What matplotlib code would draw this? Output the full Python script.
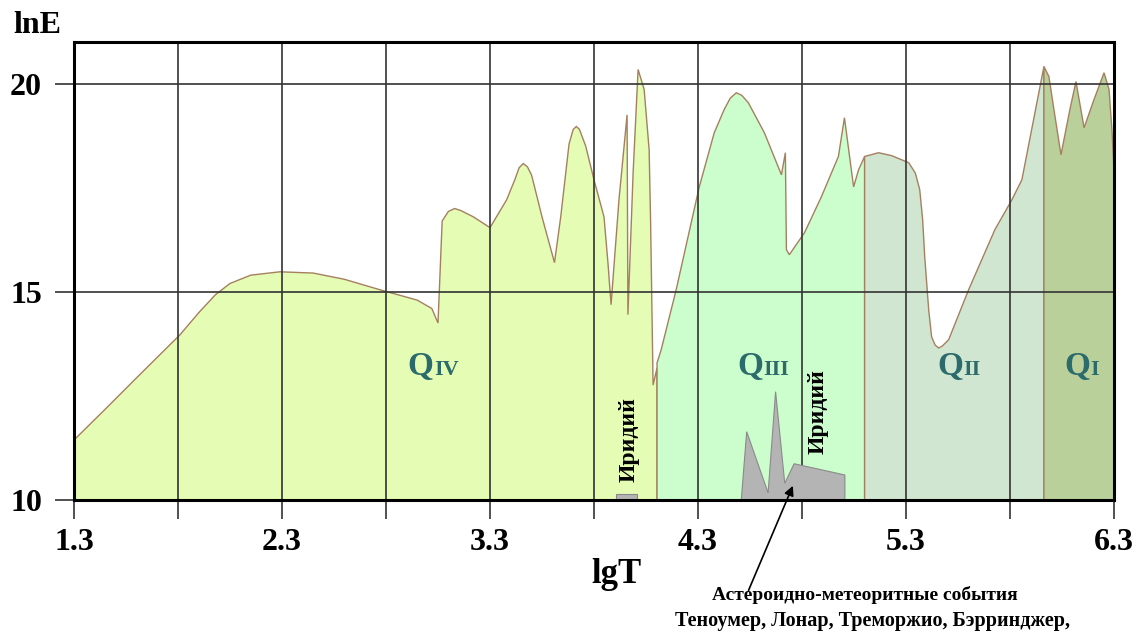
import matplotlib.pyplot as plt

plt.rcParams['font.family'] = ['Liberation Serif', 'DejaVu Serif']
plt.rcParams['font.weight'] = 'bold'

# Curve segments (lgT, lnE)
q4_x = [1.30, 1.45, 1.60, 1.81, 1.90, 1.98, 2.05, 2.15, 2.29, 2.45, 2.60, 2.77, 2.95, 3.02,
        3.05, 3.07, 3.10, 3.13, 3.16, 3.22, 3.30, 3.38, 3.42, 3.44, 3.46, 3.48, 3.50, 3.55,
        3.61, 3.64, 3.68, 3.70, 3.715, 3.73, 3.76, 3.80, 3.848, 3.867, 3.882, 3.920, 3.959,
        3.963, 3.988, 4.012, 4.041, 4.065, 4.072, 4.084, 4.103]
q4_y = [11.44, 12.18, 12.93, 13.97, 14.50, 14.93, 15.20, 15.40, 15.48, 15.45, 15.30, 15.05,
        14.80, 14.60, 14.25, 16.70, 16.93, 17.00, 16.95, 16.80, 16.54, 17.21, 17.70, 17.98,
        18.08, 18.00, 17.80, 16.80, 15.70, 16.80, 18.55, 18.90, 18.97, 18.90, 18.50, 17.69,
        16.80, 15.70, 14.69, 17.21, 19.25, 14.45, 17.86, 20.34, 19.86, 18.41, 16.70, 12.76,
        13.17]

q3_x = [4.103, 4.123, 4.195, 4.306, 4.378, 4.426, 4.455, 4.484, 4.510, 4.542, 4.619, 4.701,
        4.720, 4.725, 4.739, 4.812, 4.893, 4.975, 5.004, 5.048, 5.072, 5.101]
q3_y = [13.29, 13.61, 15.05, 17.52, 18.82, 19.38, 19.65, 19.78, 19.72, 19.54, 18.82, 17.81,
        18.34, 16.01, 15.89, 16.42, 17.28, 18.25, 19.18, 17.52, 17.93, 18.25]

q2_x = [5.101, 5.168, 5.231, 5.313, 5.345, 5.366, 5.380, 5.390, 5.409, 5.423, 5.440, 5.457,
        5.475, 5.505, 5.601, 5.727, 5.809, 5.857, 5.963]
q2_y = [18.25, 18.34, 18.27, 18.10, 17.85, 17.45, 16.73, 15.84, 14.57, 13.92, 13.72, 13.65,
        13.70, 13.85, 15.05, 16.49, 17.21, 17.69, 20.41]

q1_x = [5.963, 5.987, 6.011, 6.045, 6.088, 6.117, 6.156, 6.204, 6.252, 6.276, 6.290, 6.300]
q1_y = [20.41, 20.17, 19.38, 18.29, 19.38, 20.05, 18.94, 19.62, 20.26, 19.86, 18.89, 17.93]

iridium_x = [3.906, 3.906, 4.007, 4.007]
iridium_y = [10.0, 10.15, 10.15, 10.0]
impact_x = [4.508, 4.534, 4.637, 4.673, 4.717, 4.762, 5.006, 5.006]
impact_y = [10.0, 11.64, 10.17, 12.60, 10.40, 10.87, 10.60, 10.0]

segments = [
    (q4_x, q4_y, '#e5fcb4', 'IV', 3.03),
    (q3_x, q3_y, '#ccfdcc', 'III', 4.614),
    (q2_x, q2_y, '#d0e6d0', 'II', 5.577),
    (q1_x, q1_y, '#b9d09b', 'I', 6.184),
]

fig = plt.figure(figsize=(11.42, 6.34), dpi=100)
ax = fig.add_axes([0.0648, 0.2114, 0.9107, 0.7224])

edge = '#a58060'
for xs, ys, col, num, lx in segments:
    px = [xs[0]] + xs + [xs[-1]]
    py = [10] + ys + [10]
    ax.fill(px, py, facecolor=col, edgecolor=edge, linewidth=1.0, zorder=1)
    ax.text(lx, 13.0, 'Q', fontsize=24, color='#2b6b6b', ha='right', va='baseline', zorder=5)
    ax.text(lx, 13.0, num, fontsize=16, color='#2b6b6b', ha='left', va='baseline', zorder=5)

ax.fill(iridium_x, iridium_y, facecolor='#b4b4b4', edgecolor='#8a8a8a', linewidth=0.8, zorder=4)
ax.fill(impact_x, impact_y, facecolor='#b4b4b4', edgecolor='#8a8a8a', linewidth=0.8, zorder=4)

ax.text(3.968, 11.44, 'Иридий', rotation=90, fontsize=17, ha='center', va='center', zorder=5)
ax.text(4.879, 12.12, 'Иридий', rotation=90, fontsize=17, ha='center', va='center', zorder=5)

ax.annotate('', xy=(4.756, 10.34), xytext=(4.543, 7.83),
            arrowprops=dict(arrowstyle='-|>', color='black', lw=1.2, mutation_scale=14,
                            shrinkA=0, shrinkB=0),
            annotation_clip=False, zorder=7)
ax.text(5.10, 7.60, 'Астероидно-метеоритные события', fontsize=14, ha='center',
        va='baseline', clip_on=False)
ax.text(5.14, 6.98, 'Теноумер, Лонар, Треморжио, Бэрринджер,', fontsize=14.5, ha='center',
        va='baseline', clip_on=False)

ax.set_xlim(1.3, 6.3)
ax.set_ylim(10, 21)
ax.set_xticks([1.3, 1.8, 2.3, 2.8, 3.3, 3.8, 4.3, 4.8, 5.3, 5.8, 6.3])
ax.set_xticklabels(['1.3', '', '2.3', '', '3.3', '', '4.3', '', '5.3', '', '6.3'])
ax.set_yticks([10, 15, 20])
ax.tick_params(axis='both', direction='out', length=14, width=1.2, color='#333333',
               labelsize=23, pad=6)
ax.tick_params(axis='y', pad=9)
ax.set_axisbelow(False)
ax.grid(True, color='#333333', linewidth=1.2)
for s in ax.spines.values():
    s.set_linewidth(2.2)
    s.set_zorder(6)

fig.text(0.0114, 0.948, 'lnE', fontsize=23, ha='left', va='baseline')
fig.text(0.540, 1 - 583 / 634, 'lgT', fontsize=25, ha='center', va='baseline')

fig.savefig('out.png', dpi=100)
